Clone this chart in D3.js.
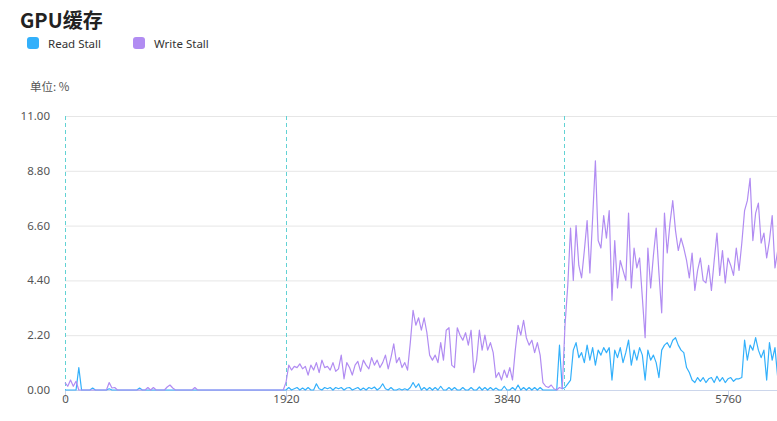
<!DOCTYPE html>
<html><head><meta charset="utf-8">
<script src="https://cdn.jsdelivr.net/npm/d3@7/dist/d3.min.js"></script>
<style>body{margin:0;background:#fff} svg{display:block}</style>
</head><body><svg id="c" width="777" height="421"></svg>
<script>
const chartTitle = "GPU缓存";
const seriesNames = ["Read Stall", "Write Stall"];
const seriesColors = ["#33b0fb", "#b18cf2"];
const unitLabel = "单位: %";
const yTicks = [0, 2.2, 4.4, 6.6, 8.8, 11];
const xTicks = [0, 1920, 3840, 5760];
const markers = [0, 1920, 4336];
const sampleStep = 24;

const readStall = [
0,0,0,0,0,0.9,0,0,0,0,
0.08,0,0,0,0,0,0.05,0,0,0,
0,0,0,0,0,0,0,0.08,0,0,
0,0,0,0,0,0,0,0,0,0,
0,0,0,0,0,0,0,0,0,0,
0,0,0,0,0,0,0,0,0,0,
0,0,0,0,0,0,0,0,0,0,
0,0,0,0,0,0,0,0,0,0,
0,0.1,0,0.05,0.1,0,0.08,0,0.1,0,
0,0.25,0.05,0,0.1,0.05,0.1,0,0.1,0.05,
0.1,0,0.08,0.1,0,0.05,0.1,0,0.08,0,
0.1,0.05,0.12,0,0.08,0.25,0.05,0,0.1,0,
0,0.05,0,0.05,0,0.1,0.3,0.1,0.25,0,
0.1,0,0.1,0,0.1,0,0.15,0,0,0.1,
0,0.1,0,0,0.1,0,0,0.1,0,0,
0.12,0,0.1,0,0.1,0,0.08,0,0,0.15,
0,0,0.1,0,0.2,0,0.1,0,0.1,0,
0.1,0,0.1,0,0,0,0,0,0,1.8,
0.05,0.1,0.25,0.4,1.6,1.9,1.3,1.5,1.1,1.8,
1.2,1.7,1.0,1.6,1.4,1.7,1.5,1.7,0.4,1.6,
1.3,1.7,1.1,1.5,2.0,1.0,1.6,1.2,1.7,1.4,
0.4,1.6,1.2,1.4,1.1,0.5,1.6,1.8,1.9,1.7,
2.0,2.1,1.8,1.6,1.5,0.9,0.7,0.4,0.3,0.5,
0.35,0.5,0.3,0.45,0.5,0.3,0.55,0.35,0.5,0.3,
0.45,0.5,0.35,0.45,0.45,0.5,2.0,1.2,1.8,1.6,
2.1,1.6,1.3,1.6,0.4,1.9,1.2,1.7,0.5
];

const writeStall = [
0.3,0.15,0.4,0.15,0.35,0,0,0,0,0,
0,0,0,0,0,0,0.3,0.08,0.1,0,
0,0,0,0,0,0,0,0,0,0,
0.1,0,0.1,0,0,0,0,0.12,0.2,0.08,
0,0,0,0,0,0,0,0.1,0,0,
0,0,0,0,0,0,0,0,0,0,
0,0,0,0,0,0,0,0,0,0,
0,0,0,0,0,0,0,0,0,0,
0.3,1.0,0.8,0.95,0.9,1.05,0.85,0.95,0.6,1.0,
0.8,1.1,0.7,1.2,0.9,0.95,0.8,1.1,0.75,0.85,
1.4,0.45,1.1,0.9,0.6,1.0,1.15,0.75,1.2,1.0,
0.85,1.3,1.0,1.2,0.9,1.1,1.4,0.85,1.3,1.85,
1.1,1.3,0.9,1.1,0.8,1.9,3.2,2.6,2.9,2.4,
2.9,2.3,1.4,1.2,1.4,1.1,1.9,1.2,2.4,2.5,
1.0,0.9,2.5,2.2,2.0,2.3,1.8,2.4,0.7,1.2,
2.4,1.6,2.2,1.6,1.9,1.5,0.5,0.7,0.4,0.8,
0.5,0.9,0.4,1.6,2.6,2.2,2.8,2.1,1.8,2.0,
1.5,1.9,1.4,0.3,0.15,0.1,0.2,0.05,0,0.1,
0.05,2.6,4.2,6.5,4.4,6.6,5.0,4.5,5.6,6.8,
4.7,6.9,9.2,6.0,5.7,7.0,6.1,7.2,3.6,6.0,
4.1,5.2,4.8,4.4,7.1,4.1,5.7,4.9,5.3,3.7,
2.1,5.7,4.1,5.4,6.5,4.7,3.1,7.1,5.5,6.7,
7.6,6.4,5.6,6.1,5.7,5.2,4.5,5.5,4.0,4.8,
5.3,4.4,4.3,5.0,4.0,5.2,6.3,4.6,5.6,4.3,
5.3,5.0,4.6,5.7,4.8,5.9,7.2,7.6,8.5,6.0,
7.1,7.5,5.9,6.3,5.3,6.0,7.0,4.9,5.6
];

const svg = d3.select("#c");
const font = "'Noto Sans', 'Noto Sans CJK SC', sans-serif";
const plotLeft = 65, plotRight = 777, plotTop = 116, plotBottom = 390;

const x = d3.scaleLinear().domain([0, 6240]).range([plotLeft, plotLeft + 6240 * 221 / 1920]);
const y = d3.scaleLinear().domain([0, 11]).range([plotBottom, plotTop]);

// title
svg.append("text").attr("x", 20).attr("y", 28)
  .attr("font-family", "'Noto Sans CJK SC', sans-serif").attr("font-weight", "bold")
  .attr("font-size", 20).attr("fill", "#222").text(chartTitle);

// legend
const legendX = [27, 133];
seriesNames.forEach((n, i) => {
  svg.append("rect").attr("x", legendX[i]).attr("y", 37).attr("width", 12).attr("height", 12)
    .attr("rx", 3).attr("fill", seriesColors[i]);
  svg.append("text").attr("x", legendX[i] + 21).attr("y", 47.5)
    .attr("font-family", font).attr("font-size", 11.5).attr("fill", "#333").text(n);
});

// unit label
svg.append("text").attr("x", 30).attr("y", 91)
  .attr("font-family", "'Noto Sans CJK SC', sans-serif").attr("font-size", 11.5).attr("fill", "#555").text(unitLabel);

// grid
svg.append("g").selectAll("line").data(yTicks.filter(d => d > 0)).join("line")
  .attr("x1", plotLeft).attr("x2", plotRight)
  .attr("y1", d => y(d) + 0.5).attr("y2", d => y(d) + 0.5)
  .attr("stroke", "#e6e6e6").attr("stroke-width", 1);

// y labels
svg.append("g").selectAll("text").data(yTicks).join("text")
  .attr("x", 50).attr("y", d => y(d) + 4)
  .attr("text-anchor", "end").attr("font-family", font).attr("font-size", 11.5)
  .attr("fill", "#555").text(d => d.toFixed(2));

// x axis
const xAxis = d3.axisBottom(x).tickValues(xTicks).tickSize(9).tickSizeOuter(0).tickFormat(d3.format("d"));
const gx = svg.append("g").attr("transform", `translate(0,${plotBottom + 0.5})`).call(xAxis);
gx.select(".domain").attr("stroke", "#ccd6eb").attr("d", `M${plotLeft},0H${plotRight}`);
gx.selectAll(".tick line").attr("stroke", "#ccd6eb");
gx.selectAll(".tick text").attr("font-family", font).attr("font-size", 11.5).attr("fill", "#555").attr("dy", "0.55em").attr("y", 6);

// marker lines
svg.append("g").selectAll("line").data(markers).join("line")
  .attr("x1", d => Math.round(x(d)) + 0.5).attr("x2", d => Math.round(x(d)) + 0.5)
  .attr("y1", plotTop).attr("y2", plotBottom)
  .attr("stroke", "#62d2d4").attr("stroke-width", 1).attr("stroke-dasharray", "4,3");

// series
const line = d3.line().x((d, i) => x(i * sampleStep)).y(d => y(d));
[readStall, writeStall].forEach((s, i) => {
  svg.append("path").datum(s).attr("d", line).attr("fill", "none")
    .attr("stroke", seriesColors[i]).attr("stroke-width", 1.2).attr("stroke-linejoin", "round");
});
</script>
</body></html>
